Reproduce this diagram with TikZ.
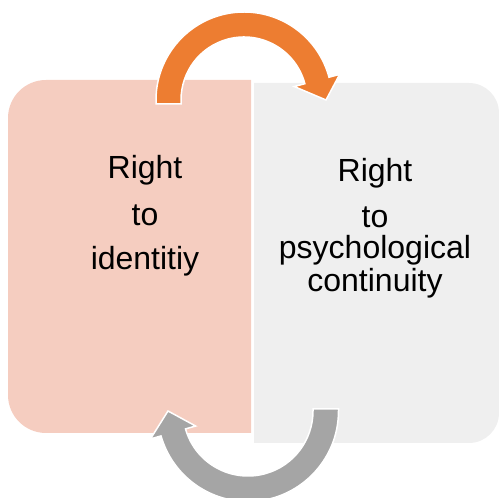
\documentclass[tikz,border=0pt]{standalone}
\usepackage{fontspec}
\setmainfont{Liberation Sans}

\begin{document}
\begin{tikzpicture}[x=1pt,y=1pt]
	\colorlet{leftcolor}{rgb,255:red,245;green,205;blue,192}
	\colorlet{rightcolor}{rgb,255:red,239;green,239;blue,239}
	\colorlet{topcolor}{rgb,255:red,237;green,125;blue,49}
	\colorlet{bottomcolor}{rgb,255:red,165;green,165;blue,165}
	\tikzset{word/.style={font=\fontsize{32}{32}\selectfont,anchor=base,inner sep=0pt}}
	\tikzset{bendarrow/.style={draw=white,line width=1.5pt,line join=miter}}

	\pgfmathsetmacro{\Ro}{88}
	\pgfmathsetmacro{\Ri}{63}

	\clip (0,0) rectangle (499,498);

	% the two boxes
	\fill[leftcolor] (251,65) -- (46,65) arc[start angle=270,end angle=180,radius=38]
	  -- (8,380) arc[start angle=180,end angle=90,radius=38] -- (251,418) -- cycle;
	\fill[rightcolor] (254,55) -- (469,55) arc[start angle=-90,end angle=0,radius=30]
	  -- (499,385) arc[start angle=0,end angle=90,radius=30] -- (254,415) -- cycle;

	\node[word] (lright) at (145,319) {Right};
	\node[word] (lto) at (145,272) {to};
	\node[word] (lident) at (145,228) {identitiy};

	\node[word] (rright) at (375,316) {Right};
	\node[word] (rto) at (375,270) {to};
	\node[word] (rpsych) at (375,239) {psychological};
	\node[word] (rcont) at (375,206) {continuity};

	% arrow over the top
	\begin{scope}[shift={(244,398)}]
		\filldraw[topcolor,bendarrow] (-\Ro,-4) -- (180:\Ro)
		  arc[start angle=180,end angle=15,radius=\Ro] -- (15:99) -- (0:82)
		  -- (15:52) -- (15:\Ri) arc[start angle=15,end angle=180,radius=\Ri]
		  -- (-\Ri,-4) -- cycle;
	\end{scope}

	% arrow under the bottom
	\begin{scope}[shift={(248,87)}]
		\filldraw[bottomcolor,bendarrow] (90.5,2) -- (0:90.5)
		  arc[start angle=0,end angle=-164,radius=90.5] -- (-164:101.5) -- (180:80)
		  -- (-164:54.5) -- (-164:65) arc[start angle=-164,end angle=0,radius=65]
		  -- (65,2) -- cycle;
	\end{scope}
\end{tikzpicture}
\end{document}
